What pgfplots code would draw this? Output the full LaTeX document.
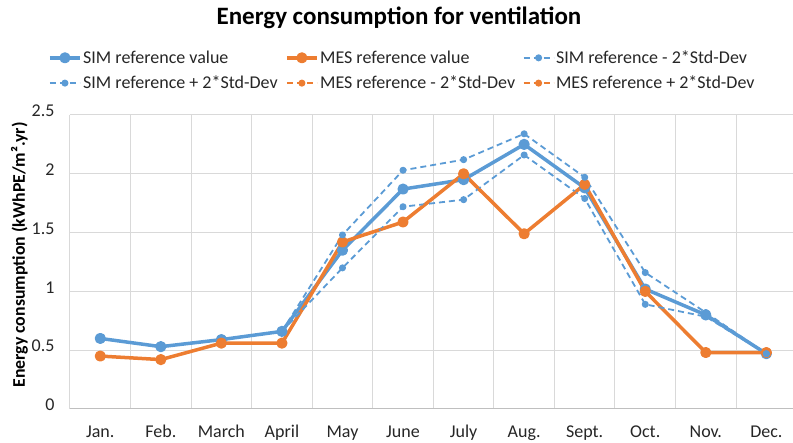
\documentclass[border=0pt]{standalone}
\usepackage{pgfplots}
\pgfplotsset{compat=1.18}
\usepackage{fontspec}
\setmainfont{Carlito}
\definecolor{cblue}{HTML}{5B9BD5}
\definecolor{corange}{HTML}{ED7D31}
\definecolor{cgrid}{HTML}{D9D9D9}
\definecolor{caxis}{HTML}{BFBFBF}
\definecolor{ctext}{HTML}{262626}
\begin{document}
\begin{tikzpicture}
\begin{axis}[
  name=ax, scale only axis, width=723pt, height=294pt,
  xmin=-0.5, xmax=11.44, ymin=0, ymax=2.5,
  xtick={0,...,11},
  xticklabels={Jan.,Feb.,March,April,May,June,July,Aug.,Sept.,Oct.,Nov.,Dec.},
  minor xtick={-0.5,0.5,...,11.5},
  ytick={0,0.5,1,1.5,2,2.5},
  ymajorgrids, xminorgrids,
  major grid style={cgrid, line width=1pt},
  minor grid style={cgrid, line width=1pt},
  axis x line*=bottom, axis y line*=left,
  x axis line style={draw=caxis, line width=1pt},
  y axis line style={draw=none},
  major tick length=0pt, minor tick length=0pt,
  /pgf/number format/assume math mode=true,
  ticklabel style={font=\fontsize{18}{21}\selectfont, text=ctext},
  yticklabel style={anchor=east, xshift=-12pt, yshift=4pt},
  xticklabel style={anchor=base, yshift=-29pt},
  ylabel={Energy consumption (kWhPE/m².yr)},
  ylabel style={font=\bfseries\fontsize{17.8}{20}\selectfont, at={(axis description cs:-0.07,0.524)}, anchor=center},
  legend columns=3,
  legend cell align=left,
  legend style={draw=none, fill=none, font=\fontsize{18}{22}\selectfont, text=ctext,
    at={(axis description cs:0,1)}, anchor=north west, xshift=-22pt, yshift=66pt,
    inner sep=0pt, row sep=8pt, nodes={inner sep=1.5pt},
    /tikz/every even column/.append style={column sep=6pt}},
  every axis plot/.append style={line join=round,
    legend image code/.code={\draw[mark repeat=2,mark phase=2] plot coordinates {(0pt,0pt) (15pt,0pt) (30pt,0pt)};}},
]
\addplot[cblue, line width=3.5pt, mark=*, mark size=3.8pt, mark options={solid}] coordinates {
(0,0.60) (1,0.53) (2,0.59) (3,0.66) (4,1.35) (5,1.87) (6,1.95) (7,2.25) (8,1.88) (9,1.02) (10,0.80) (11,0.47)};
\addlegendentry{SIM reference value}
\addplot[corange, line width=3.5pt, mark=*, mark size=3.8pt, mark options={solid}] coordinates {
(0,0.45) (1,0.42) (2,0.56) (3,0.56) (4,1.42) (5,1.59) (6,2.00) (7,1.49) (8,1.91) (9,1.00) (10,0.48) (11,0.48)};
\addlegendentry{MES reference value}
\addplot[cblue, line width=1.8pt, dash pattern=on 6pt off 4pt, mark=*, mark size=2.6pt, mark options={solid}] coordinates {
(3,0.66) (4,1.20) (5,1.72) (6,1.78) (7,2.16) (8,1.79) (9,0.89) (10,0.785) (11,0.47)};
\addlegendentry{SIM reference - 2*Std-Dev}
\addplot[cblue, line width=1.8pt, dash pattern=on 6pt off 4pt, mark=*, mark size=2.6pt, mark options={solid}] coordinates {
(3,0.66) (4,1.48) (5,2.03) (6,2.12) (7,2.34) (8,1.97) (9,1.16) (10,0.82) (11,0.47)};
\addlegendentry{SIM reference + 2*Std-Dev}
\addplot[corange, line width=1.8pt, dash pattern=on 6pt off 4pt, mark=*, mark size=2.6pt, mark options={solid}] coordinates {
(4,1.42) (5,1.59) (6,2.00) (7,1.49) (8,1.91)};
\addlegendentry{MES reference - 2*Std-Dev}
\addplot[corange, line width=1.8pt, dash pattern=on 6pt off 4pt, mark=*, mark size=2.6pt, mark options={solid}] coordinates {
(4,1.42) (5,1.59) (6,2.00) (7,1.49) (8,1.91)};
\addlegendentry{MES reference + 2*Std-Dev}
\end{axis}
\node[font=\bfseries\fontsize{25}{29}\selectfont, text=black] at ([xshift=329pt,yshift=97pt]ax.north west) {Energy consumption for ventilation};
\pgfresetboundingbox
\path[use as bounding box] ([xshift=-70pt,yshift=-34pt]ax.south west) rectangle ([yshift=115pt]ax.north east);
\end{tikzpicture}
\end{document}
